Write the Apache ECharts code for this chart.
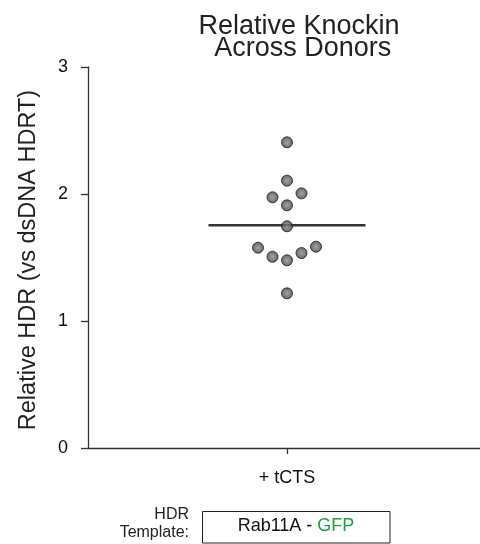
<!DOCTYPE html>
<html>
<head>
<meta charset="utf-8">
<style>
  html, body { margin: 0; padding: 0; background: #ffffff; }
  #chart { width: 480px; height: 544px; }
</style>
<script src="https://cdn.jsdelivr.net/npm/echarts@6/dist/echarts.min.js"></script>
</head>
<body>
<div id="chart"></div>
<script>
// ---- data ----
const categories = ['+ tCTS'];
const relativeHDR = [2.407, 2.105, 2.005, 1.974, 1.911, 1.746, 1.585, 1.577, 1.535, 1.506, 1.478, 1.218];
const yTickMin = 0;
const yTickMax = 3;
const yTickStep = 1;
const titleText = 'Relative Knockin\n Across Donors';
const yAxisTitle = 'Relative HDR (vs dsDNA HDRT)';
const templateLabelTop = 'HDR';
const templateLabelBottom = 'Template:';
const templateGene = 'Rab11A - ';
const templateTag = 'GFP';

// ---- layout ----
const W = 480, H = 544;
const gridLeft = 88, gridRight = 0, gridTop = 67, gridBottom = 96;
const groupCenterX = 287;                        // pixel centre of the single group
const gridH = H - gridTop - gridBottom;
const pxPerUnitY = gridH / (yTickMax - yTickMin);
const pxPerUnitX = groupCenterX - gridLeft;      // x axis: -1 at the y axis, 0 at group centre
const xMax = (W - gridRight - gridLeft) / pxPerUnitX - 1;
const slotPx = 14.5;                             // horizontal swarm step
const collidePx = 14.3;                          // min distance between point centres
const meanHalfPx = 78.5;

// simple beeswarm: place points in ascending order at the nearest free slot (left first)
function beeswarm(values) {
  const order = values.map((v, i) => i).sort((a, b) => values[a] - values[b]);
  const placed = [];
  const slotsOf = new Array(values.length);
  const prefs = [0, -1, 1, -2, 2, -3, 3, -4, 4, -5, 5];
  for (const i of order) {
    const y = values[i] * pxPerUnitY;
    for (const s of prefs) {
      const x = s * slotPx;
      const ok = placed.every(p => Math.hypot(p.x - x, p.y - y) >= collidePx);
      if (ok) { placed.push({ x, y }); slotsOf[i] = s; break; }
    }
  }
  return values.map((v, i) => [slotsOf[i] * slotPx / pxPerUnitX, v]);
}

const points = beeswarm(relativeHDR);
const mean = relativeHDR.reduce((a, b) => a + b, 0) / relativeHDR.length;
const meanHalf = meanHalfPx / pxPerUnitX;

const font = "'Liberation Sans', Arial, Helvetica, sans-serif";
const axisColor = '#333333';

const chart = echarts.init(document.getElementById('chart'), null, { renderer: 'canvas' });
chart.setOption({
  animation: false,
  backgroundColor: '#ffffff',
  title: {
    text: titleText,
    left: 294,
    top: 10,
    textAlign: 'center',
    textStyle: { fontFamily: font, fontSize: 27, fontWeight: 'normal', color: '#222222', lineHeight: 22.5 }
  },
  grid: { left: gridLeft, right: gridRight, top: gridTop, bottom: gridBottom, containLabel: false },
  xAxis: {
    type: 'value',
    min: -1,
    max: xMax,
    axisLine: { show: true, onZero: false, lineStyle: { color: axisColor, width: 1.3 } },
    axisTick: { show: true, customValues: [0], length: 6, lineStyle: { color: axisColor, width: 1.3 } },
    axisLabel: {
      customValues: [0],
      formatter: () => categories[0],
      margin: 21, fontFamily: font, fontSize: 18, color: '#111111'
    },
    splitLine: { show: false }
  },
  yAxis: {
    type: 'value',
    min: yTickMin,
    max: yTickMax,
    interval: yTickStep,
    name: yAxisTitle,
    nameLocation: 'middle',
    nameRotate: 90,
    nameGap: 47,
    nameTextStyle: { fontFamily: font, fontSize: 23.5, color: '#222222', padding: [0, 5, 0, 0] },
    axisLine: { show: true, onZero: false, lineStyle: { color: axisColor, width: 1.3 } },
    axisTick: { show: true, length: 7, lineStyle: { color: axisColor, width: 1.3 } },
    axisLabel: { margin: 20, fontFamily: font, fontSize: 18, color: '#111111' },
    splitLine: { show: false }
  },
  series: [
    {
      type: 'line',
      data: [[-meanHalf, mean], [meanHalf, mean]],
      symbol: 'none',
      lineStyle: { color: '#333333', width: 2.6 },
      silent: true,
      z: 2
    },
    {
      type: 'scatter',
      data: points,
      symbol: 'circle',
      symbolSize: 11,
      itemStyle: {
        color: {
          type: 'radial', x: 0.5, y: 0.5, r: 0.55,
          colorStops: [
            { offset: 0, color: '#8c8c8c' },
            { offset: 0.55, color: '#5e5e5e' },
            { offset: 1, color: '#2e2e2e' }
          ]
        },
        borderColor: '#1e1e1e',
        borderWidth: 1
      },
      z: 3
    }
  ],
  graphic: [
    {
      type: 'text',
      x: 189, y: 515,
      style: { text: templateLabelTop, font: '16px ' + font, fill: '#222222', align: 'right', verticalAlign: 'middle' }
    },
    {
      type: 'text',
      x: 189, y: 532.5,
      style: { text: templateLabelBottom, font: '16px ' + font, fill: '#222222', align: 'right', verticalAlign: 'middle' }
    },
    {
      type: 'rect',
      shape: { x: 202.5, y: 511.5, width: 187.5, height: 31.5 },
      style: { fill: 'none', stroke: '#222222', lineWidth: 1 }
    },
    {
      type: 'text',
      x: 296, y: 526,
      style: {
        text: '{a|' + templateGene + '}{g|' + templateTag + '}',
        align: 'center',
        verticalAlign: 'middle',
        rich: {
          a: { fontFamily: font, fontSize: 18, fill: '#111111', color: '#111111' },
          g: { fontFamily: font, fontSize: 18, fill: '#1f9e3f', color: '#1f9e3f' }
        }
      }
    }
  ]
});
</script>
</body>
</html>
